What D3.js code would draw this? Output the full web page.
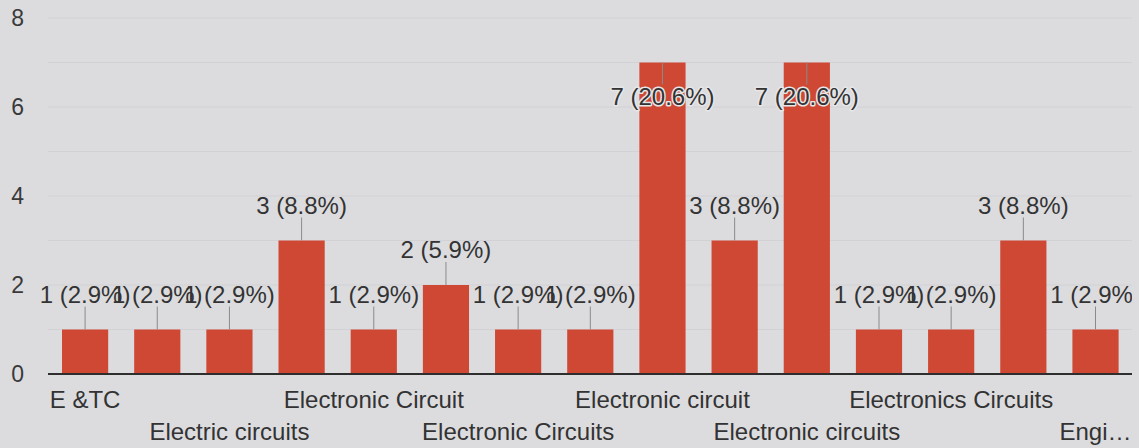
<!DOCTYPE html>
<html><head><meta charset="utf-8">
<script src="https://cdn.jsdelivr.net/npm/d3@7"></script>
<style>
html,body{margin:0;padding:0;background:#dcdcdf;}
svg{display:block;font-family:"Liberation Sans",Arial,sans-serif;}
</style></head>
<body><svg id="chart" width="1139" height="448"></svg>
<script>
const categories = ["E &TC","ECE","Electric circuits","Electrical Circuits","Electronic Circuit","Electronic Circuit Analysis","Electronic Circuits","Electronic Devices","Electronic circuit","Electronic circuit design","Electronic circuits","Electronics","Electronics Circuits","Electronics circuits","Engineering Circuits"];
const values = [1,1,1,3,1,2,1,1,7,3,7,1,1,3,1];
const yTicks = [0,2,4,6,8];

const W = 1139, H = 448;
const svg = d3.select("#chart");
const total = d3.sum(values);
const x = d3.scaleBand().domain(categories).range([49, 1131.6]).paddingInner(0.36).paddingOuter(0.18);
const y = d3.scaleLinear().domain([0, 8]).range([374, 18]);

svg.append("defs").append("clipPath").attr("id", "clip")
  .append("rect").attr("x", 0).attr("y", 0).attr("width", 1132).attr("height", 380);

svg.append("rect").attr("width", W).attr("height", H).attr("fill", "#dcdcdf");

// gridlines at every unit
svg.append("g").selectAll("line").data(d3.range(1, 9)).join("line")
  .attr("x1", 48).attr("x2", 1132)
  .attr("y1", d => y(d)).attr("y2", d => y(d))
  .attr("stroke", "#d2d2d6").attr("stroke-width", 1);

// y tick labels
svg.append("g").selectAll("text").data(yTicks).join("text")
  .attr("x", 24).attr("y", d => y(d)).attr("dy", "0.35em")
  .attr("text-anchor", "end").attr("font-size", 23).attr("fill", "#3a3a3a")
  .text(d => d);

// bars
svg.append("g").selectAll("rect").data(values).join("rect")
  .attr("x", (d, i) => x(categories[i]))
  .attr("width", x.bandwidth())
  .attr("y", d => y(d))
  .attr("height", d => y(0) - y(d))
  .attr("fill", "#cf4834");

// baseline
svg.append("line").attr("x1", 48).attr("x2", 1132).attr("y1", y(0)).attr("y2", y(0))
  .attr("stroke", "#2e2e2e").attr("stroke-width", 2);

// data labels with leader lines
const lab = svg.append("g").attr("clip-path", "url(#clip)");
values.forEach((v, i) => {
  const cx = x(categories[i]) + x.bandwidth() / 2;
  const top = y(v);
  const inside = v >= 7;
  const lineEnd = inside ? top + 22 : top - 23;
  lab.append("line").attr("x1", cx).attr("x2", cx).attr("y1", top).attr("y2", lineEnd)
    .attr("stroke", "#8a8a8a").attr("stroke-width", 1);
  const pct = (v / total * 100).toFixed(1);
  const t = lab.append("text")
    .attr("x", cx).attr("y", inside ? lineEnd + 20 : lineEnd - 4)
    .attr("text-anchor", "middle").attr("font-size", 24).attr("fill", "#333")
    .text(`${v} (${pct}%)`);
  if (inside) {
    t.attr("stroke", "#e6e6e8").attr("stroke-width", 3)
     .attr("paint-order", "stroke").attr("stroke-linejoin", "round");
  }
});

// category labels (every other, staggered in two rows)
const catG = svg.append("g");
categories.forEach((c, i) => {
  if (i % 2 !== 0) return;
  const cx = x(c) + x.bandwidth() / 2;
  const row = (i / 2) % 2;
  const t = catG.append("text")
    .attr("x", cx).attr("y", row === 0 ? 408 : 440)
    .attr("text-anchor", "middle").attr("font-size", 24).attr("fill", "#333")
    .text(c);
  // truncate if overflowing right edge
  let s = c;
  while (t.node().getBBox().x + t.node().getBBox().width > W - 6 && s.length > 1) {
    s = s.slice(0, -1);
    t.text(s + "…");
  }
});
</script>
</body></html>
